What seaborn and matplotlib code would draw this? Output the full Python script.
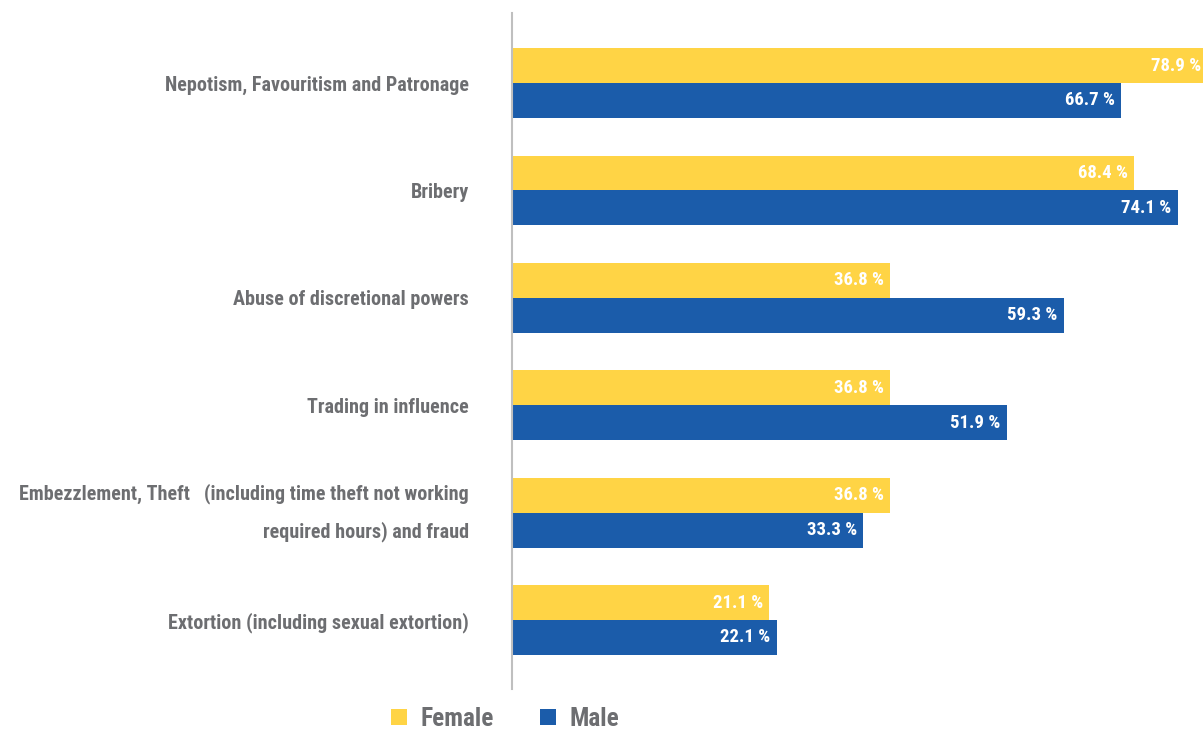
import matplotlib
matplotlib.use("Agg")
import matplotlib.pyplot as plt
import pandas as pd
import seaborn as sns
from matplotlib import font_manager as fm
from matplotlib.lines import Line2D

# --- data -------------------------------------------------------------
categories = [
    "Nepotism, Favouritism and Patronage",
    "Bribery",
    "Abuse of discretional powers",
    "Trading in influence",
    "Embezzlement, Theft   (including time theft not working\nrequired hours) and fraud",
    "Extortion (including sexual extortion)",
]
female = [78.9, 68.4, 36.8, 36.8, 36.8, 21.1]
male = [66.7, 74.1, 59.3, 51.9, 33.3, 22.1]
series = ["Female", "Male"]

# --- style ------------------------------------------------------------
colors = ["#FFD445", "#1B5CAA"]
text_grey = "#6D6E71"
axis_grey = "#BFBFBF"

sns.set_style("white")


def _is_narrow(entry):
    s = entry.stretch
    if isinstance(s, str):
        return s in ("ultra-condensed", "extra-condensed", "condensed", "semi-condensed")
    return s < 500


# prefer a condensed bold face when one is installed
ttf = fm.fontManager.ttflist
narrow_names = {f.name for f in ttf if _is_narrow(f) or "Narrow" in f.name or "Condensed" in f.name}
base_font, stretch = "DejaVu Sans", "normal"
for cand in ["Liberation Sans Narrow", "Roboto Condensed", "Open Sans Condensed",
             "DejaVu Sans", "Open Sans", "Noto Sans", "Roboto"]:
    if cand in narrow_names:
        base_font = cand
        stretch = "condensed"
        break

plt.rcParams["font.family"] = [base_font, "DejaVu Sans"]
plt.rcParams["font.stretch"] = stretch

if stretch == "condensed":
    CAT_FS, VAL_FS, LEG_FS = 14.5, 13.5, 18.3
else:
    CAT_FS, VAL_FS, LEG_FS = 10.1, 10.4, 13.5

# category axis crosses the value axis at its minimum
XMIN, XMAX = -12.23, 77.38

W, H, DPI = 1203, 735, 100
fig = plt.figure(figsize=(W / DPI, H / DPI), dpi=DPI)
ax = fig.add_axes([512 / W, 1 - 689 / H, (W - 512) / W, (689 - 13) / H])

df = pd.DataFrame({
    "category": categories * 2,
    "value": female + male,
    "sex": [series[0]] * len(categories) + [series[1]] * len(categories),
})

sns.barplot(
    data=df, x="value", y="category", hue="sex",
    order=categories, hue_order=series, palette=colors,
    orient="h", width=0.65, saturation=1, errorbar=None,
    legend=False, ax=ax,
)

# bars start where the category axis sits
for container, vals in zip(ax.containers, [female, male]):
    for bar, v in zip(container, vals):
        bar.set_x(XMIN)
        bar.set_width(v - XMIN)
        bar.set_linewidth(0)
        end = min(v, XMAX)
        pad_px = 6 if v < XMAX else 1.5
        ax.annotate(
            f"{v:.1f} %",
            xy=(end, bar.get_y() + bar.get_height() / 2),
            xytext=(-pad_px * 72 / DPI, 0), textcoords="offset points",
            ha="right", va="center", color="white",
            fontsize=VAL_FS, fontweight="bold", annotation_clip=False,
        )

ax.set_xlim(XMIN, XMAX)
ax.set_ylim(5.642, -0.652)
ax.set_xlabel("")
ax.set_ylabel("")
ax.set_xticks([])
ax.set_yticks(range(len(categories)))
ax.set_yticklabels(categories, fontsize=CAT_FS, fontweight="bold", color=text_grey)
for lbl in ax.get_yticklabels():
    if "\n" in lbl.get_text():
        lbl.set_linespacing(2.05)
        lbl.set_verticalalignment("center")
ax.tick_params(axis="y", length=0, pad=43 * 72 / DPI)
for side in ["top", "right", "bottom"]:
    ax.spines[side].set_visible(False)
ax.spines["left"].set_color(axis_grey)
ax.spines["left"].set_linewidth(1.5)
ax.set_facecolor("none")

handles = [
    Line2D([], [], marker="s", linestyle="", markersize=12.2,
           markerfacecolor=c, markeredgewidth=0)
    for c in colors
]
leg = fig.legend(
    handles, series, loc="center", bbox_to_anchor=(504 / W, 1 - 719 / H),
    ncol=2, frameon=False, handlelength=0.8, handletextpad=0.45,
    columnspacing=1.75, prop={"size": LEG_FS, "weight": "bold"},
)
for t in leg.get_texts():
    t.set_color(text_grey)

fig.savefig("out.png", dpi=DPI)
